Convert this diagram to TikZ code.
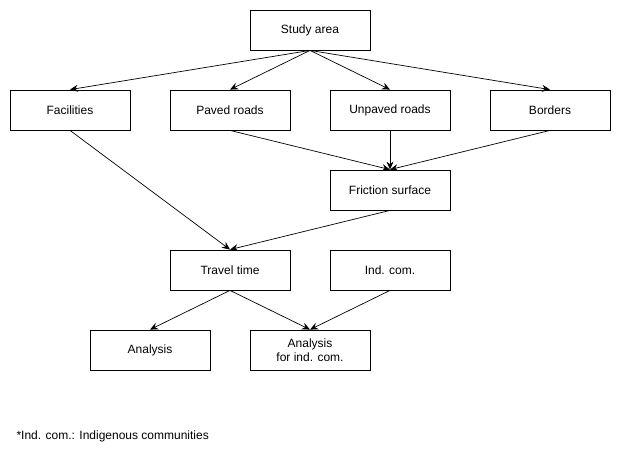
\documentclass[tikz,border=0pt]{standalone}
\usepackage{fontspec}
\setmainfont{Liberation Sans}
\usetikzlibrary{arrows.meta}
\begin{document}
\begin{tikzpicture}[x=1pt,y=-1pt,
  box/.style={draw,line width=0.8pt,minimum width=120pt,minimum height=40pt,inner sep=0pt,align=center,font=\fontsize{12}{14}\selectfont},
  arr/.style={draw,line width=0.7pt,-{Stealth[length=8pt,width=7pt]}}]
\useasboundingbox (0,0) rectangle (621,461);
\node[box] (study) at (310,30) {Study area};
\node[box] (fac) at (70,110) {Facilities};
\node[box] (paved) at (230,110) {Paved roads};
\node[box] (unpaved) at (390,110) {Unpaved roads};
\node[box] (borders) at (550,110) {Borders};
\node[box] (fric) at (390,190) {Friction surface};
\node[box] (travel) at (230,270) {Travel time};
\node[box] (ind) at (390,270) {Ind. com.};
\node[box] (anal) at (150,350) {Analysis};
\node[box] (analind) at (310,350) {Analysis\\for ind. com.};
\node[anchor=west,font=\fontsize{12}{14}\selectfont] (foot) at (13,436) {*Ind. com.: Indigenous communities};
\draw[arr] (study.south) -- (fac.north);
\draw[arr] (study.south) -- (paved.north);
\draw[arr] (study.south) -- (unpaved.north);
\draw[arr] (study.south) -- (borders.north);
\draw[arr] (fac.south) -- (travel.north);
\draw[arr] (paved.south) -- (fric.north);
\draw[arr] (unpaved.south) -- (fric.north);
\draw[arr] (borders.south) -- (fric.north);
\draw[arr] (fric.south) -- (travel.north);
\draw[arr] (travel.south) -- (anal.north);
\draw[arr] (travel.south) -- (analind.north);
\draw[arr] (ind.south) -- (analind.north);
\end{tikzpicture}
\end{document}
